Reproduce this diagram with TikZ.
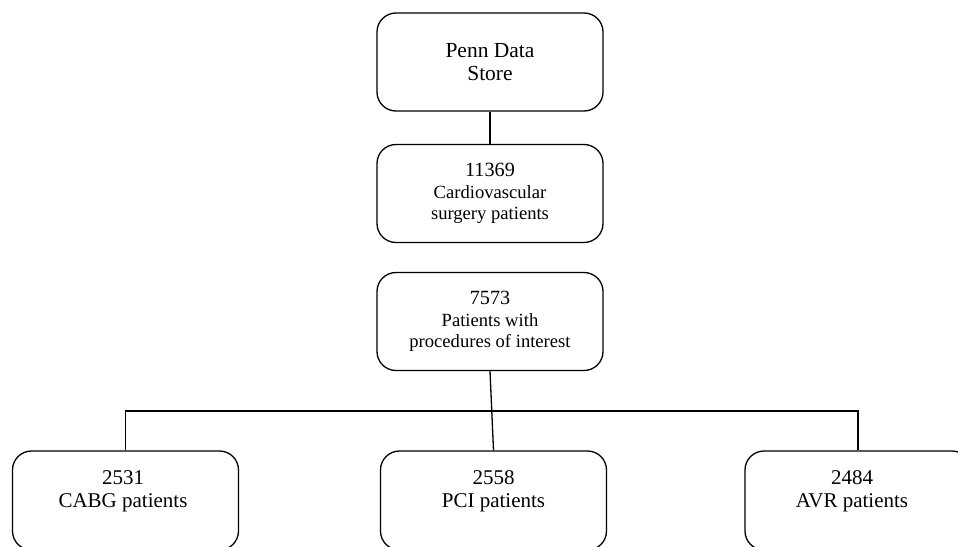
\documentclass[tikz,border=0pt]{standalone}
\usepackage{fontspec}
\setmainfont{Liberation Serif}
\newcommand{\numsz}{\fontsize{20.2}{21.5}\selectfont}
\begin{document}
\begin{tikzpicture}[x=1pt,y=-1pt,
  box/.style={draw=black,line width=1.3pt,rounded corners=19pt,minimum width=226pt,minimum height=98pt,inner sep=0pt,align=center,font=\fontsize{18.6}{21.3}\selectfont},
  topbox/.style={box,font=\fontsize{21.5}{22.5}\selectfont},
  plainbox/.style={draw=black,line width=1.3pt,rounded corners=19pt,minimum width=226pt,minimum height=99pt,inner sep=0pt},
  boxtext/.style={align=center,inner sep=0pt,font=\fontsize{21}{23}\selectfont},
  conn/.style={draw=black,line width=1.3pt}]
\useasboundingbox (0,0) rectangle (958,546);
\clip (0,0) rectangle (958,546);
\fill[white] (0,0) rectangle (958,546);
\node[topbox] (store) at (490,62) {Penn Data\\Store};
\node[box] (cvs) at (490,193.5) {{\numsz 11369}\\Cardiovascular\\surgery patients};
\node[box] (interest) at (490,321.5) {{\numsz 7573}\\Patients with\\procedures of interest};
\node[plainbox] (cabg) at (125.5,500.5) {};
\node[plainbox] (pci) at (493.5,500.5) {};
\node[plainbox] (avr) at (858,500.5) {};
\node[boxtext] (cabgt) at (123,491.5) {2531\\CABG patients};
\node[boxtext] (pcit) at (493.5,491.5) {2558\\PCI patients};
\node[boxtext] (avrt) at (852,491.5) {2484\\AVR patients};
\coordinate (bus) at (490,411);
\draw[conn] (store.south) -- (cvs.north);
\draw[conn] (interest.south) -- (pci.north);
\draw[conn] (cabg.north) |- (bus) -| (avr.north);
\end{tikzpicture}
\end{document}
